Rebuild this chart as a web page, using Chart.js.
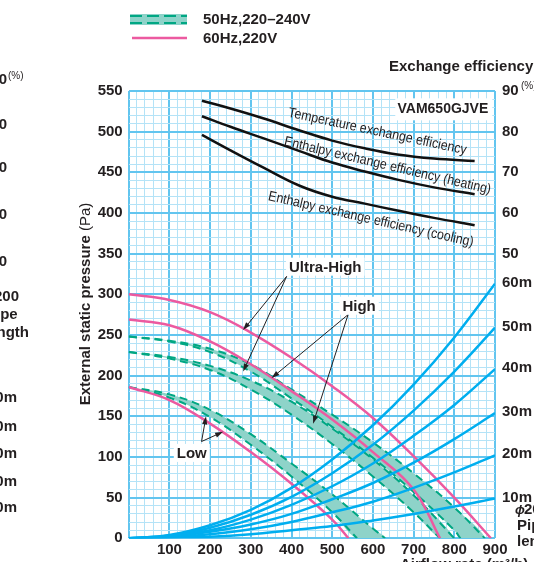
<!DOCTYPE html>
<html>
<head>
<meta charset="utf-8">
<script src="https://cdn.jsdelivr.net/npm/chart.js@4.4.1/dist/chart.umd.min.js"></script>
<style>
html, body { margin: 0; padding: 0; background: #fff; overflow: hidden; }
canvas { display: block; }
</style>
</head>
<body>
<canvas id="fan-chart" width="534" height="562"></canvas>
<script>
// 60Hz,220V fan curves (airflow m3/h -> pressure Pa)
const flow_uh60 = [0, 100, 200, 300, 400, 500, 600, 700, 800, 890];
const press_uh60 = [300, 293, 278, 253, 222, 187, 148, 101, 50, 0];
const flow_h60 = [0, 100, 200, 300, 400, 500, 600, 700, 765];
const press_h60 = [269, 262, 242, 214, 181, 146, 106, 60, 0];
const flow_l60 = [0, 100, 200, 300, 400, 500, 540];
const press_l60 = [186, 170, 141, 106, 67, 23, 0];

// 50Hz band edges (240V upper, 220V lower)
const flow_uh240 = [0, 100, 200, 300, 400, 500, 600, 700, 800, 875];
const press_uh240 = [248, 243, 233, 214, 183, 152, 118, 80, 38, 0];
const flow_uh220 = [0, 100, 200, 300, 400, 500, 600, 700, 800, 815];
const press_uh220 = [248, 242, 229, 205, 172, 137, 99, 57, 10, 0];
const flow_h240 = [0, 100, 200, 300, 400, 500, 600, 700, 800];
const press_h240 = [229, 223, 212, 194, 168, 135, 97, 53, 0];
const flow_h220 = [0, 100, 200, 300, 400, 500, 600, 700, 765];
const press_h220 = [229, 221, 207, 183, 152, 116, 76, 32, 0];
const flow_l240 = [0, 100, 200, 300, 400, 500, 600, 630];
const press_l240 = [186, 177, 158, 128, 92, 54, 12, 0];
const flow_l220 = [0, 100, 200, 300, 400, 500, 561];
const press_l220 = [186, 173, 149, 115, 76, 32, 0];

// duct resistance, phi200 pipe
const pipe_flow = [0, 100, 200, 300, 400, 500, 600, 700, 800, 900];
const pipe_labels = ['60m', '50m', '40m', '30m', '20m', '10m'];
const pipe_60 = [0, 4, 16, 35, 62, 97, 139, 189, 247, 313];
const pipe_50 = [0, 3, 13, 29, 51, 80, 115, 157, 205, 259];
const pipe_40 = [0, 3, 10, 23, 41, 64, 92, 126, 164, 208];
const pipe_30 = [0, 2, 8, 17, 30, 48, 68, 93, 122, 154];
const pipe_20 = [0, 1, 5, 11, 20, 32, 45, 62, 81, 102];
const pipe_10 = [0, 1, 2, 5, 10, 15, 22, 30, 39, 49];

// exchange efficiency (%)
const eff_flow = [180, 250, 330, 420, 500, 580, 660, 750, 850];
const eff_temp = [87.6, 85.7, 83.3, 80.3, 77.8, 75.9, 74.4, 73.4, 72.8];
const eff_heat = [83.8, 81.2, 78.4, 75.2, 72.4, 70.2, 68.2, 66.3, 64.6];
const eff_cool = [79.2, 75.4, 71.2, 66.7, 64.0, 62.3, 60.6, 58.8, 57.0];

const x_ticks = [100, 200, 300, 400, 500, 600, 700, 800, 900];
const eff_ticks = [50, 60, 70, 80, 90];

// annotations (flow, pressure)
const speed_names = ['Ultra-High', 'High', 'Low'];
const speed_label_at = [[483, 334], [566, 286], [155, 105]];
const speed_arrow_from = [[388, 322], [539, 275], [179, 119]];
const speed_arrow_tips = [[[281, 256], [281, 205]], [[351, 197], [453, 141]], [[190, 150], [232, 131]]];
const eff_names = ['Temperature exchange efficiency', 'Enthalpy exchange efficiency (heating)', 'Enthalpy exchange efficiency (cooling)'];
const eff_label_at = [[611, 80.0], [636, 71.6], [595, 58.4]];

const INK = '#231f20';
const PINK = '#ec5aa0';
const GREEN = '#00a783';
const TEAL = '#8ed3c9';
const BLUE = '#00aeef';
const GRID_MAJOR = '#62c5ef';
const GRID_MINOR = '#b4e3f7';
const FONT = '"Liberation Sans", Arial, Helvetica, sans-serif';

const pts = (xs, ys) => xs.map((x, i) => ({ x: x, y: ys[i] }));
const band = (xa, ya, xb, yb) => pts(xa, ya).concat(pts(xb, yb).reverse());

function line(data, color, width, extra) {
    return Object.assign({
        data: data,
        borderColor: color,
        borderWidth: width,
        pointRadius: 0,
        fill: false,
        tension: 0.4,
    }, extra || {});
}

function band_set(data) {
    return line(data, 'rgba(0,0,0,0)', 0, { fill: 'shape', backgroundColor: TEAL, order: 6 });
}

function dashed(xs, ys) {
    return line(pts(xs, ys), GREEN, 2, { borderDash: [8, 5], order: 5 });
}

const datasets = [
    band_set(band(flow_uh240, press_uh240, flow_uh220, press_uh220)),
    band_set(band(flow_h240, press_h240, flow_h220, press_h220)),
    band_set(band(flow_l240, press_l240, flow_l220, press_l220)),
    dashed(flow_uh240, press_uh240),
    dashed(flow_uh220, press_uh220),
    dashed(flow_h240, press_h240),
    dashed(flow_h220, press_h220),
    dashed(flow_l240, press_l240),
    dashed(flow_l220, press_l220),
    line(pts(flow_uh60, press_uh60), PINK, 2.5, { order: 4 }),
    line(pts(flow_h60, press_h60), PINK, 2.5, { order: 4 }),
    line(pts(flow_l60, press_l60), PINK, 2.5, { order: 4 }),
];
[pipe_60, pipe_50, pipe_40, pipe_30, pipe_20, pipe_10].forEach(p => {
    datasets.push(line(pts(pipe_flow, p), BLUE, 2.5, { order: 3 }));
});
[eff_temp, eff_heat, eff_cool].forEach(e => {
    datasets.push(line(pts(eff_flow, e), '#111', 2.5, { order: 2, yAxisID: 'y2' }));
});

function arrow(c, x1, y1, x2, y2) {
    const a = Math.atan2(y2 - y1, x2 - x1), L = 8, W = 2.6;
    c.beginPath();
    c.moveTo(x1, y1);
    c.lineTo(x2 - Math.cos(a) * L * 0.7, y2 - Math.sin(a) * L * 0.7);
    c.stroke();
    c.beginPath();
    c.moveTo(x2, y2);
    c.lineTo(x2 - L * Math.cos(a) + W * Math.sin(a), y2 - L * Math.sin(a) - W * Math.cos(a));
    c.lineTo(x2 - L * Math.cos(a) - W * Math.sin(a), y2 - L * Math.sin(a) + W * Math.cos(a));
    c.closePath();
    c.fill();
}

function boxed_text(c, text, x, y, pad) {
    const w = c.measureText(text).width;
    c.fillStyle = '#fff';
    c.fillRect(x - w / 2 - pad, y - 9, w + pad * 2, 18);
    c.fillStyle = INK;
    c.fillText(text, x, y + 1);
}

const decor = {
    id: 'decor',
    afterDatasetsDraw(chart) {
        const c = chart.ctx;
        const sx = chart.scales.x, sy = chart.scales.y, se = chart.scales.y2;
        const px = v => sx.getPixelForValue(v);
        const py = v => sy.getPixelForValue(v);
        const pe = v => se.getPixelForValue(v);
        c.save();

        // efficiency curve labels
        const eff_widths = [182, 212, 210];
        const eff_angles = [12, 13.2, 12.8];
        c.font = '14px ' + FONT;
        c.fillStyle = INK;
        c.textAlign = 'center';
        c.textBaseline = 'middle';
        eff_names.forEach((t, i) => {
            c.save();
            c.translate(px(eff_label_at[i][0]), pe(eff_label_at[i][1]));
            c.rotate(eff_angles[i] * Math.PI / 180);
            c.scale(eff_widths[i] / c.measureText(t).width, 1);
            c.fillText(t, 0, 0);
            c.restore();
        });

        // model tag
        c.font = 'bold 14px ' + FONT;
        c.fillStyle = '#fff';
        c.fillRect(px(655), py(541), 97, 22);
        c.fillStyle = INK;
        c.fillText('VAM650GJVE', px(772), py(528));

        // speed labels with arrows
        c.strokeStyle = INK;
        c.fillStyle = INK;
        c.lineWidth = 1;
        speed_names.forEach((n, i) => {
            const f = speed_arrow_from[i];
            speed_arrow_tips[i].forEach(t => {
                c.fillStyle = INK;
                arrow(c, px(f[0]), py(f[1]), px(t[0]), py(t[1]));
            });
        });
        c.font = 'bold 15px ' + FONT;
        speed_names.forEach((n, i) => {
            boxed_text(c, n, px(speed_label_at[i][0]), py(speed_label_at[i][1]), 3);
        });

        // pipe length labels at the end of each resistance curve
        const ends = [pipe_60, pipe_50, pipe_40, pipe_30, pipe_20, pipe_10].map(p => p[p.length - 1]);
        c.textAlign = 'left';
        c.fillStyle = INK;
        pipe_labels.forEach((t, i) => {
            c.fillText(t, 502, py(ends[i]) - 1);
        });
        c.font = 'italic bold 13px ' + FONT;
        c.fillText('\u03d5', 515, 510);
        c.font = 'bold 15px ' + FONT;
        c.fillText('200', 524, 510);
        c.fillText('Pipe', 517, 526);
        c.fillText('length', 517, 542);

        // percent sign beside 90
        c.font = '10px ' + FONT;
        c.fillText('(%)', 521, pe(90) - 5);

        // right axis title
        c.font = 'bold 15px ' + FONT;
        c.fillText('Exchange efficiency', 389, 67);

        // x axis title (cut at the bottom edge)
        c.textBaseline = 'top';
        c.fillText('Airflow rate (m\u00b3/h)', 400, 557);
        c.textBaseline = 'middle';

        // y axis title
        c.save();
        c.translate(86, 304);
        c.rotate(-Math.PI / 2);
        const t1 = 'External static pressure ', t2 = '(Pa)';
        c.font = 'bold 15px ' + FONT;
        const w1 = c.measureText(t1).width;
        c.font = '15px ' + FONT;
        const w2 = c.measureText(t2).width;
        c.font = 'bold 15px ' + FONT;
        c.fillText(t1, -(w1 + w2) / 2, 0);
        c.font = '15px ' + FONT;
        c.fillText(t2, -(w1 + w2) / 2 + w1, 0);
        c.restore();

        // legend
        c.fillStyle = TEAL;
        c.fillRect(130, 14, 57, 11);
        c.strokeStyle = GREEN;
        c.lineWidth = 2;
        c.setLineDash([12, 5]);
        [16, 23].forEach(yy => {
            c.beginPath(); c.moveTo(130, yy); c.lineTo(187, yy); c.stroke();
        });
        c.setLineDash([]);
        c.strokeStyle = PINK;
        c.lineWidth = 2.5;
        c.beginPath(); c.moveTo(132, 38); c.lineTo(187, 38); c.stroke();
        c.fillStyle = INK;
        c.font = 'bold 15px ' + FONT;
        c.fillText('50Hz,220\u2013240V', 203, 20);
        c.fillText('60Hz,220V', 203, 39);

        // neighbouring chart, cut at the left edge
        c.textAlign = 'right';
        [['90', 80], ['80', 125], ['70', 168], ['60', 215], ['50', 262]].forEach(r => c.fillText(r[0], 7, r[1]));
        c.textAlign = 'left';
        c.font = '10px ' + FONT;
        c.fillText('(%)', 8, 76);
        c.font = 'bold 15px ' + FONT;
        c.fillText('200', -6, 297);
        c.fillText('Pipe', -14, 315);
        c.fillText('length', -16, 333);
        c.textAlign = 'right';
        [['60m', 398], ['50m', 427], ['40m', 454], ['30m', 482], ['20m', 508]].forEach(r => c.fillText(r[0], 17, r[1]));

        c.restore();
    }
};

const grid_color = ctx => (ctx.tick && ctx.tick.value % 100 === 0) ? GRID_MAJOR : GRID_MINOR;
const grid_width = ctx => (ctx.tick && ctx.tick.value % 100 === 0) ? 2 : 1;
const ygrid_color = ctx => (ctx.tick && ctx.tick.value % 50 === 0) ? GRID_MAJOR : GRID_MINOR;
const ygrid_width = ctx => (ctx.tick && ctx.tick.value % 50 === 0) ? 2 : 1;

new Chart(document.getElementById('fan-chart'), {
    type: 'line',
    data: { datasets: datasets },
    options: {
        responsive: false,
        devicePixelRatio: 1,
        animation: false,
        layout: { padding: { top: 91, left: 0, right: 0, bottom: 0 } },
        plugins: {
            legend: { display: false },
            tooltip: { enabled: false },
        },
        scales: {
            x: {
                type: 'linear',
                min: 0,
                max: 900,
                border: { display: false },
                grid: { color: grid_color, lineWidth: grid_width, drawTicks: false },
                ticks: {
                    stepSize: 20,
                    autoSkip: false,
                    maxRotation: 0,
                    minRotation: 0,
                    padding: 3,
                    color: INK,
                    font: { family: FONT, size: 15, weight: 'bold' },
                    callback: v => x_ticks.includes(v) ? String(v) : '',
                },
                afterFit: s => { s.height = 23.7; },
            },
            y: {
                type: 'linear',
                position: 'left',
                min: 0,
                max: 550,
                border: { display: false },
                grid: { color: ygrid_color, lineWidth: ygrid_width, drawTicks: false },
                ticks: {
                    stepSize: 10,
                    autoSkip: false,
                    padding: 6,
                    color: INK,
                    font: { family: FONT, size: 15, weight: 'bold' },
                    callback: v => v % 50 === 0 ? String(v) : '',
                },
                afterFit: s => { s.width = 128.7; },
            },
            y2: {
                type: 'linear',
                position: 'right',
                min: -20,
                max: 90,
                border: { display: false },
                grid: { display: false, drawTicks: false },
                ticks: {
                    stepSize: 10,
                    autoSkip: false,
                    padding: 7,
                    color: INK,
                    font: { family: FONT, size: 15, weight: 'bold' },
                    callback: v => eff_ticks.includes(v) ? String(v) : '',
                },
                afterFit: s => { s.width = 39; },
            },
        },
    },
    plugins: [decor],
});
</script>
</body>
</html>
